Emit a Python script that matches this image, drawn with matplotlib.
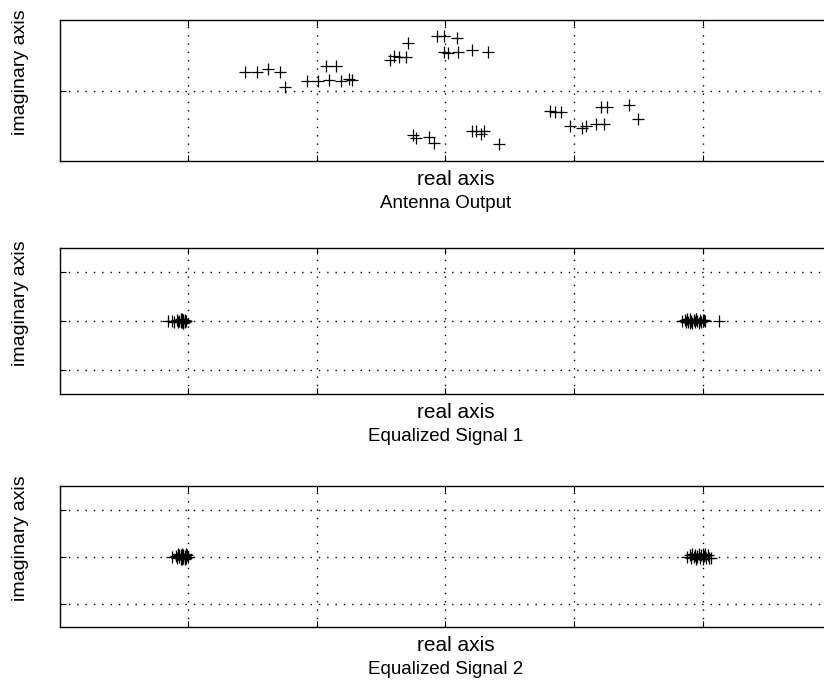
import matplotlib.pyplot as plt

plt.rcParams['font.family'] = ['Liberation Sans', 'DejaVu Sans']

# Antenna Output (real, imaginary)
ant_re = [-1.56, -1.47, -1.38, -1.29, -1.25, -1.08, -0.99, -0.91, -0.93, -0.85,
          -0.81, -0.75, -0.73, -0.43, -0.40, -0.36, -0.31, -0.29, -0.07, -0.01,
          0.09, -0.01, 0.02, 0.10, 0.21, 0.33, -0.25, -0.23, -0.13, -0.09,
          0.21, 0.24, 0.28, 0.30, 0.42, 0.81, 0.85, 0.90, 0.97, 1.06,
          1.09, 1.17, 1.23, 1.21, 1.26, 1.43, 1.50]
ant_im = [0.27, 0.27, 0.30, 0.26, 0.05, 0.14, 0.14, 0.15, 0.35, 0.35,
          0.14, 0.16, 0.15, 0.44, 0.49, 0.47, 0.47, 0.68, 0.77, 0.77,
          0.74, 0.54, 0.53, 0.55, 0.57, 0.55, -0.63, -0.68, -0.66, -0.74,
          -0.57, -0.58, -0.61, -0.57, -0.76, -0.29, -0.30, -0.30, -0.50, -0.53,
          -0.50, -0.47, -0.48, -0.23, -0.24, -0.21, -0.40]

# Equalized Signal 1
eq1_re = [-2.16, -2.13, -2.11, -2.09, -2.08, -2.07, -2.06, -2.05, -2.05, -2.05,
          -2.04, -2.04, -2.04, -2.03, -2.03, -2.02, -2.06, -2.04,
          1.84, 1.86, 1.87, 1.88, 1.89, 1.90, 1.91, 1.92, 1.93, 1.94,
          1.95, 1.96, 1.97, 1.98, 1.99, 2.00, 2.01, 2.02, 1.90, 1.95, 2.13]
eq1_im = [0.00, 0.01, -0.02, 0.02, -0.02, 0.01, 0.04, -0.03, 0.04, 0.00,
          -0.04, 0.03, 0.01, -0.02, 0.03, 0.01, -0.03, -0.04,
          0.00, 0.02, -0.03, 0.04, -0.02, 0.04, 0.01, -0.04, 0.02, -0.02,
          0.04, 0.00, -0.04, 0.03, -0.02, 0.02, 0.03, -0.01, -0.04, 0.05, 0.00]

# Equalized Signal 2
eq2_re = [-2.13, -2.10, -2.09, -2.08, -2.07, -2.06, -2.06, -2.05, -2.05, -2.04,
          -2.04, -2.03, -2.03, -2.02, -2.02, -2.01, -2.00, -2.05, -2.03, -2.07,
          1.88, 1.90, 1.91, 1.92, 1.93, 1.94, 1.95, 1.96, 1.97, 1.98,
          1.99, 2.00, 2.01, 2.02, 2.03, 2.04, 2.05, 2.07, 1.96, 2.00]
eq2_im = [-0.02, 0.01, -0.04, 0.05, -0.01, 0.03, -0.05, 0.06, 0.00, -0.03,
          0.04, -0.06, 0.02, 0.05, -0.03, 0.03, 0.00, -0.05, 0.00, 0.04,
          0.00, 0.03, -0.04, 0.05, -0.02, 0.04, -0.05, 0.02, 0.06, -0.03,
          0.04, -0.05, 0.01, 0.05, -0.03, 0.03, -0.04, -0.04, 0.00, 0.06]

panels = [
    (ant_re, ant_im, 'Antenna Output', (-1, 1), [0], [0.7656, 0.2052]),
    (eq1_re, eq1_im, 'Equalized Signal 1', (-1.5, 1.5), [-1, 0, 1], [0.4265, 0.2125]),
    (eq2_re, eq2_im, 'Equalized Signal 2', (-1.5, 1.5), [-1, 0, 1], [0.0873, 0.2052]),
]

fig = plt.figure(figsize=(8.24, 6.87), dpi=100)

for re, im, title, ylim, yt, (b, h) in panels:
    ax = fig.add_axes([0.0728, b, 0.9357, h])
    ax.plot(re, im, '+', color='black', markersize=9, markeredgewidth=0.9)
    ax.set_xlim(-3, 3)
    ax.set_ylim(*ylim)
    ax.set_xticks([-2, -1, 0, 1, 2])
    ax.set_yticks(yt)
    ax.set_xticklabels([])
    ax.set_yticklabels([])
    ax.tick_params(direction='in', length=4, width=0.8, top=True, right=True)
    ax.grid(True, color='black', linestyle=(0, (1, 5)), linewidth=1.0)
    for s in ax.spines.values():
        s.set_linewidth(1.0)
    ax.annotate('real axis', xy=(0.5, 0), xycoords='axes fraction',
                xytext=(10, -9), textcoords='offset pixels',
                ha='center', va='top', fontsize=15)
    ax.annotate(title, xy=(0.5, 0), xycoords='axes fraction',
                xytext=(0, -34), textcoords='offset pixels',
                ha='center', va='top', fontsize=13.5)
    ax.annotate('imaginary axis', xy=(0, 0.5), xycoords='axes fraction',
                xytext=(-39, 18), textcoords='offset pixels',
                ha='center', va='center', rotation=90, fontsize=14)

fig.savefig('out.png', dpi=100)
